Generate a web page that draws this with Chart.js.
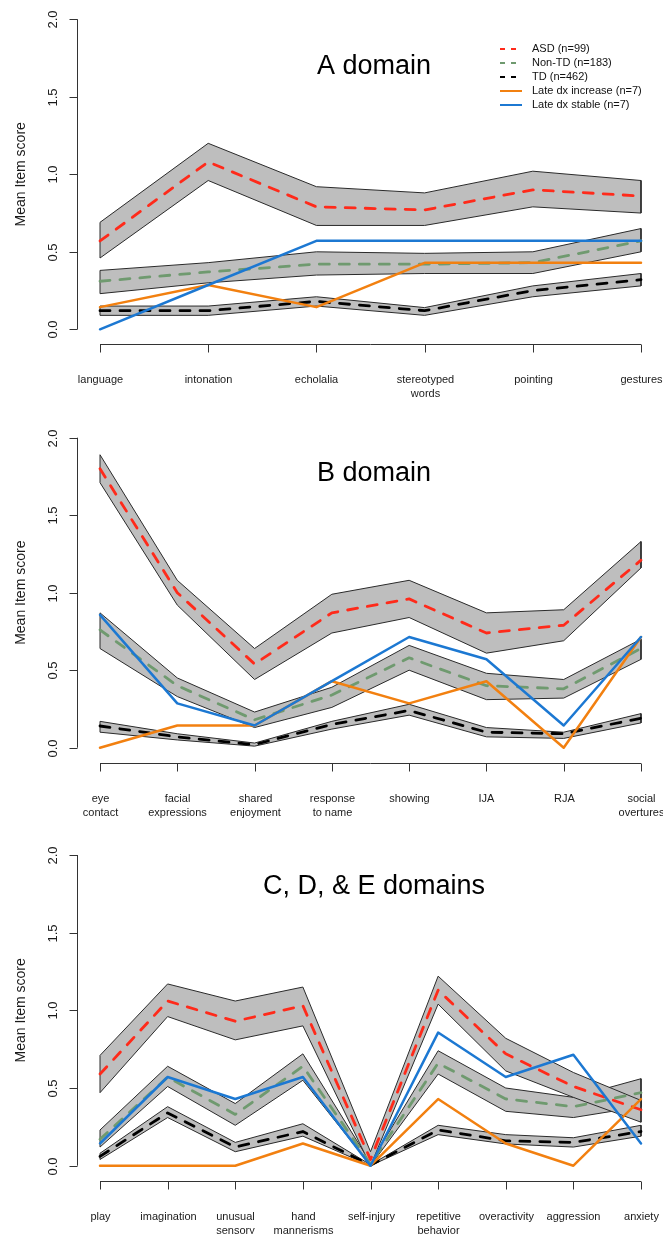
<!DOCTYPE html>
<html><head><meta charset="utf-8">
<script src="https://cdn.jsdelivr.net/npm/chart.js@4.4.1/dist/chart.umd.min.js"></script>
<style>
html,body{margin:0;padding:0;background:#fff;}
#wrap{position:relative;width:663px;height:1234px;overflow:hidden;background:#fff;}
canvas{position:absolute;left:0;}
</style></head><body>
<div id="wrap">
<canvas id="cA" width="663" height="400" style="top:0px"></canvas>
<canvas id="cB" width="663" height="420" style="top:400px"></canvas>
<canvas id="cC" width="663" height="414" style="top:820px"></canvas>
</div>
<script>
// ---------- DATA ----------
const seriesNames = ['ASD (n=99)', 'Non-TD (n=183)', 'TD (n=462)', 'Late dx increase (n=7)', 'Late dx stable (n=7)'];
const yTicks = [0, 0.5, 1, 1.5, 2];
const yTickLabels = ['0.0', '0.5', '1.0', '1.5', '2.0'];
const yTitle = 'Mean Item score';

// A domain
const titleA = 'A domain';
const categoriesA = [['language'], ['intonation'], ['echolalia'], ['stereotyped', 'words'], ['pointing'], ['gestures']];
const asdA      = [0.57, 1.08, 0.79, 0.77, 0.90, 0.86];
const asdHiA    = [0.69, 1.20, 0.92, 0.88, 1.02, 0.96];
const asdLoA    = [0.46, 0.96, 0.67, 0.67, 0.79, 0.75];
const nontdA    = [0.31, 0.37, 0.42, 0.42, 0.43, 0.57];
const nontdHiA  = [0.38, 0.43, 0.50, 0.49, 0.50, 0.65];
const nontdLoA  = [0.23, 0.30, 0.35, 0.36, 0.36, 0.50];
const tdA       = [0.12, 0.12, 0.18, 0.12, 0.25, 0.32];
const tdHiA     = [0.15, 0.15, 0.21, 0.14, 0.28, 0.36];
const tdLoA     = [0.09, 0.09, 0.15, 0.09, 0.21, 0.28];
const lateIncA  = [0.143, 0.286, 0.143, 0.429, 0.429, 0.429];
const lateStabA = [0, 0.286, 0.571, 0.571, 0.571, 0.571];

// B domain
const titleB = 'B domain';
const categoriesB = [['eye', 'contact'], ['facial', 'expressions'], ['shared', 'enjoyment'], ['response', 'to name'], ['showing'], ['IJA'], ['RJA'], ['social', 'overtures']];
const asdB      = [1.80, 1.00, 0.54, 0.87, 0.96, 0.74, 0.79, 1.21];
const asdHiB    = [1.89, 1.08, 0.64, 0.99, 1.08, 0.87, 0.89, 1.33];
const asdLoB    = [1.71, 0.92, 0.44, 0.74, 0.84, 0.61, 0.69, 1.16];
const nontdB    = [0.76, 0.40, 0.18, 0.34, 0.58, 0.40, 0.38, 0.64];
const nontdHiB  = [0.87, 0.45, 0.23, 0.39, 0.66, 0.48, 0.44, 0.70];
const nontdLoB  = [0.64, 0.33, 0.13, 0.26, 0.50, 0.31, 0.32, 0.57];
const tdB       = [0.14, 0.07, 0.02, 0.15, 0.24, 0.10, 0.09, 0.19];
const tdHiB     = [0.17, 0.09, 0.03, 0.17, 0.28, 0.13, 0.10, 0.22];
const tdLoB     = [0.10, 0.05, 0.01, 0.12, 0.21, 0.07, 0.06, 0.16];
const lateIncB  = [0, 0.143, 0.143, 0.429, 0.286, 0.429, 0, 0.714];
const lateStabB = [0.857, 0.286, 0.143, 0.429, 0.714, 0.571, 0.143, 0.714];

// C, D & E domains
const titleC = 'C, D, & E domains';
const categoriesC = [['play'], ['imagination'], ['unusual', 'sensory'], ['hand', 'mannerisms'], ['self-injury'], ['repetitive', 'behavior'], ['overactivity'], ['aggression'], ['anxiety']];
const asdC      = [0.59, 1.06, 0.93, 1.03, 0.04, 1.13, 0.72, 0.51, 0.36];
const asdHiC    = [0.71, 1.17, 1.06, 1.15, 0.09, 1.22, 0.82, 0.60, 0.42];
const asdLoC    = [0.47, 0.96, 0.81, 0.90, 0.00, 1.04, 0.61, 0.44, 0.28];
const nontdC    = [0.17, 0.57, 0.33, 0.64, 0.01, 0.66, 0.43, 0.38, 0.47];
const nontdHiC  = [0.23, 0.64, 0.40, 0.72, 0.02, 0.74, 0.50, 0.44, 0.56];
const nontdLoC  = [0.12, 0.51, 0.26, 0.55, 0.00, 0.59, 0.35, 0.31, 0.38];
const tdC       = [0.06, 0.34, 0.12, 0.22, 0.003, 0.23, 0.16, 0.15, 0.22];
const tdHiC     = [0.08, 0.38, 0.15, 0.27, 0.006, 0.26, 0.20, 0.18, 0.26];
const tdLoC     = [0.04, 0.31, 0.09, 0.19, 0.00, 0.20, 0.14, 0.12, 0.19];
const lateIncC  = [0, 0, 0, 0.143, 0, 0.429, 0.143, 0, 0.429];
const lateStabC = [0.143, 0.571, 0.429, 0.571, 0, 0.857, 0.571, 0.714, 0.143];

// ---------- STYLE ----------
const FONT = '"Liberation Sans", Arial, Helvetica, sans-serif';
const C_ASD = '#ff2a1a', C_NONTD = '#6f9a6f', C_TD = '#000000', C_INC = '#f28010', C_STAB = '#1c78d2';
const BAND_FILL = '#bebebe', BAND_EDGE = '#2a2a2a';
const DASH = [10, 10];

const pts = arr => arr.map((v, i) => ({x: i, y: v}));
const band = (hi, lo) => { const p = pts(hi); return p.concat(pts(lo).reverse(), [p[0]]); };

function makeDatasets(d) {
  const bandDs = (label, hi, lo, order) => ({label, data: band(hi, lo), fill: 'shape', backgroundColor: BAND_FILL,
    borderColor: BAND_EDGE, borderWidth: 1, order, clip: false, pointRadius: 0, tension: 0});
  const meanDs = (label, arr, color, order) => ({label, data: pts(arr), fill: false, borderColor: color, borderWidth: 2.8,
    borderDash: DASH, borderCapStyle: 'round', borderJoinStyle: 'round', order, clip: false, pointRadius: 0, tension: 0});
  const solidDs = (label, arr, color, order) => ({label, data: pts(arr), fill: false, borderColor: color, borderWidth: 2.5,
    borderCapStyle: 'round', borderJoinStyle: 'round', order, clip: false, pointRadius: 0, tension: 0});
  return [
    bandDs('TD band', d.tdHi, d.tdLo, 7),
    bandDs('Non-TD band', d.nontdHi, d.nontdLo, 6),
    bandDs('ASD band', d.asdHi, d.asdLo, 5),
    meanDs(seriesNames[2], d.td, C_TD, 4),
    meanDs(seriesNames[1], d.nontd, C_NONTD, 3),
    meanDs(seriesNames[0], d.asd, C_ASD, 2),
    solidDs(seriesNames[3], d.inc, C_INC, 1),
    solidDs(seriesNames[4], d.stab, C_STAB, 0)
  ];
}

const rAxes = {
  id: 'rAxes',
  afterDraw(chart, args, o) {
    const ctx = chart.ctx, xs = chart.scales.x, ys = chart.scales.y;
    const cats = o.categories;
    ctx.save();
    ctx.strokeStyle = '#333'; ctx.lineWidth = 1; ctx.fillStyle = '#1a1a1a';
    // y axis
    const ax = 77.5;
    const yb = ys.getPixelForValue(yTicks[0]), yt = ys.getPixelForValue(yTicks[yTicks.length - 1]);
    ctx.beginPath(); ctx.moveTo(ax, yb); ctx.lineTo(ax, yt); ctx.stroke();
    ctx.font = '13px ' + FONT; ctx.textAlign = 'center'; ctx.textBaseline = 'middle';
    yTicks.forEach((t, i) => {
      const py = Math.round(ys.getPixelForValue(t)) + 0.5;
      ctx.beginPath(); ctx.moveTo(ax, py); ctx.lineTo(ax - 8, py); ctx.stroke();
      ctx.save(); ctx.translate(53, py); ctx.rotate(-Math.PI / 2); ctx.fillText(yTickLabels[i], 0, 0); ctx.restore();
    });
    ctx.font = '14px ' + FONT;
    ctx.save(); ctx.translate(21, (yb + yt) / 2); ctx.rotate(-Math.PI / 2); ctx.fillText(yTitle, 0, 0); ctx.restore();
    // x axis
    const axY = Math.round(yb + 15) + 0.5;
    const x0 = xs.getPixelForValue(0), x1 = xs.getPixelForValue(cats.length - 1);
    ctx.beginPath(); ctx.moveTo(x0, axY); ctx.lineTo(x1, axY); ctx.stroke();
    ctx.font = '11px ' + FONT;
    cats.forEach((lab, i) => {
      const px = Math.round(xs.getPixelForValue(i)) + 0.5;
      ctx.beginPath(); ctx.moveTo(px, axY); ctx.lineTo(px, axY + 8); ctx.stroke();
      lab.forEach((line, k) => ctx.fillText(line, px, axY + 35 + k * 14));
    });
    // title
    ctx.fillStyle = '#000';
    ctx.font = '27px ' + FONT; ctx.textBaseline = 'alphabetic';
    ctx.fillText(o.title, 374, o.titleY);
    // legend
    if (o.legend) {
      const styles = [
        {c: C_ASD, dash: true}, {c: C_NONTD, dash: true}, {c: C_TD, dash: true},
        {c: C_INC, dash: false}, {c: C_STAB, dash: false}
      ];
      ctx.font = '11px ' + FONT; ctx.textAlign = 'left'; ctx.textBaseline = 'middle';
      styles.forEach((s, i) => {
        const ly = 49 + i * 14;
        ctx.save();
        ctx.strokeStyle = s.c; ctx.lineWidth = 2;
        ctx.setLineDash(s.dash ? [5, 6] : []);
        ctx.beginPath(); ctx.moveTo(500, ly); ctx.lineTo(s.dash ? 517 : 522, ly); ctx.stroke();
        ctx.restore();
        ctx.fillStyle = '#111';
        ctx.fillText(seriesNames[i], 532, ly);
      });
    }
    ctx.restore();
  }
};

function build(id, d, cats, title, titleY, pad, legend) {
  new Chart(document.getElementById(id), {
    type: 'line',
    data: {datasets: makeDatasets(d)},
    options: {
      responsive: false, animation: false, devicePixelRatio: 1, events: [],
      layout: {padding: pad},
      scales: {
        x: {type: 'linear', display: false, min: 0, max: cats.length - 1},
        y: {type: 'linear', display: false, min: 0, max: 2}
      },
      plugins: {
        legend: {display: false}, tooltip: {enabled: false},
        rAxes: {categories: cats, title, titleY, legend}
      }
    },
    plugins: [rAxes]
  });
}

build('cA', {asd: asdA, asdHi: asdHiA, asdLo: asdLoA, nontd: nontdA, nontdHi: nontdHiA, nontdLo: nontdLoA,
  td: tdA, tdHi: tdHiA, tdLo: tdLoA, inc: lateIncA, stab: lateStabA}, categoriesA, titleA, 74,
  {left: 100, right: 22, top: 19.3, bottom: 70.7}, true);
build('cB', {asd: asdB, asdHi: asdHiB, asdLo: asdLoB, nontd: nontdB, nontdHi: nontdHiB, nontdLo: nontdLoB,
  td: tdB, tdHi: tdHiB, tdLo: tdLoB, inc: lateIncB, stab: lateStabB}, categoriesB, titleB, 81,
  {left: 100, right: 22, top: 37.7, bottom: 72.3}, false);
build('cC', {asd: asdC, asdHi: asdHiC, asdLo: asdLoC, nontd: nontdC, nontdHi: nontdHiC, nontdLo: nontdLoC,
  td: tdC, tdHi: tdHiC, tdLo: tdLoC, inc: lateIncC, stab: lateStabC}, categoriesC, titleC, 74,
  {left: 100, right: 22, top: 35, bottom: 68.3}, false);
</script>
</body></html>
